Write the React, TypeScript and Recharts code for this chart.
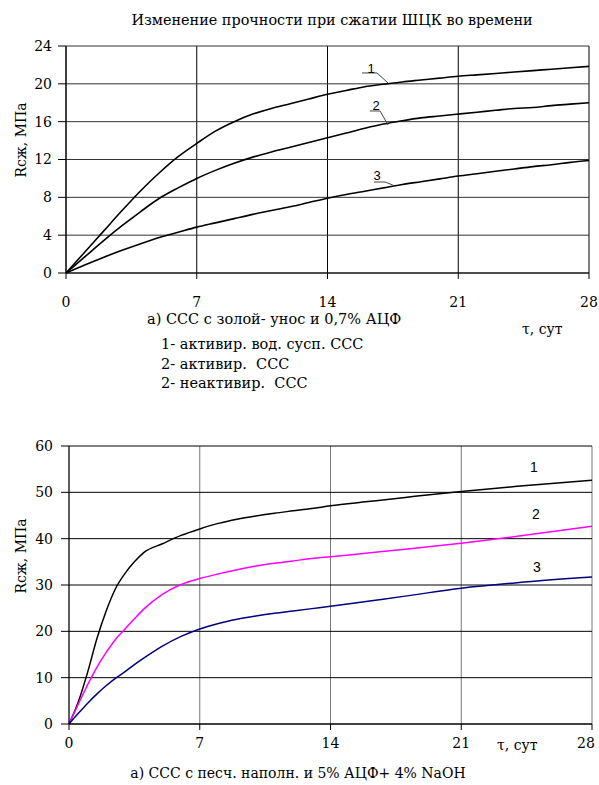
import { LineChart, Line, XAxis, YAxis, CartesianGrid, ReferenceLine } from "recharts";

// top chart: ССС с золой-унос, 0,7% АЦФ
const TOP_DAYS = [0, 1, 2, 3, 4, 5, 6, 7, 8, 9, 10, 11, 12, 13, 14, 15, 16, 17, 18, 19, 20, 21, 22, 23, 24, 25, 26, 27, 28];
const TOP_S1 = [0, 2.2, 4.4, 6.6, 8.7, 10.6, 12.3, 13.7, 15.0, 16.0, 16.8, 17.4, 17.9, 18.4, 18.9, 19.3, 19.7, 19.95, 20.2, 20.4, 20.6, 20.8, 20.95, 21.1, 21.25, 21.4, 21.55, 21.7, 21.85];
const TOP_S2 = [0, 1.7, 3.4, 5.0, 6.5, 7.9, 9.0, 10.0, 10.85, 11.6, 12.25, 12.8, 13.3, 13.8, 14.3, 14.8, 15.3, 15.75, 16.1, 16.4, 16.6, 16.8, 17.0, 17.2, 17.4, 17.5, 17.7, 17.85, 18.0];
const TOP_S3 = [0, 0.85, 1.65, 2.4, 3.1, 3.75, 4.3, 4.85, 5.3, 5.75, 6.2, 6.6, 7.0, 7.45, 7.9, 8.3, 8.65, 9.0, 9.35, 9.65, 9.95, 10.25, 10.5, 10.75, 11.0, 11.25, 11.45, 11.7, 11.9];

// bottom chart: ССС с песч. наполн., 5% АЦФ + 4% NaOH
const BOT_DAYS = [0, 0.5, 1, 1.5, 2, 2.5, 3, 3.5, 4, 5, 6, 7, 8, 9, 10, 11, 12, 13, 14, 16, 18, 21, 24, 28];
const BOT_S1 = [0, 4.8, 11.2, 18.5, 24.5, 29.3, 32.5, 35.0, 37.0, 38.9, 40.7, 42.1, 43.3, 44.2, 44.9, 45.5, 46.0, 46.5, 47.1, 48.0, 48.9, 50.2, 51.3, 52.6];
const BOT_S2 = [0, 4.3, 8.5, 12.3, 15.5, 18.3, 20.5, 22.7, 24.8, 28.0, 30.1, 31.4, 32.4, 33.3, 34.1, 34.7, 35.2, 35.7, 36.1, 36.9, 37.7, 39.0, 40.5, 42.7];
const BOT_S3 = [0, 2.3, 4.5, 6.5, 8.3, 9.9, 11.3, 12.8, 14.2, 16.8, 18.9, 20.5, 21.7, 22.6, 23.3, 23.9, 24.4, 24.9, 25.4, 26.5, 27.6, 29.3, 30.5, 31.7];

const X_TICKS = [0, 7, 14, 21, 28];
const TOP_Y_TICKS = [0, 4, 8, 12, 16, 20, 24];
const BOT_Y_TICKS = [0, 10, 20, 30, 40, 50, 60];

const TITLE = "Изменение прочности при сжатии ШЦК во времени";
const Y_LABEL = "Rсж, МПа";
const X_LABEL = "τ, сут";
const TOP_CAPTION = "а) ССС с золой- унос и 0,7% АЦФ";
const TOP_LEGEND = ["1- активир. вод. сусп. ССС", "2- активир.  ССС", "2- неактивир.  ССС"];
const BOT_CAPTION = "а) ССС с песч. наполн. и 5% АЦФ+ 4% NaOH";

const topData = TOP_DAYS.map((d, i) => ({ day: d, s1: TOP_S1[i], s2: TOP_S2[i], s3: TOP_S3[i] }));
const botData = BOT_DAYS.map((d, i) => ({ day: d, s1: BOT_S1[i], s2: BOT_S2[i], s3: BOT_S3[i] }));

const SERIF = "DejaVu Serif";
const SANS = "Liberation Sans";
const tickStyle = { fill: "#000", fontSize: 14, fontFamily: SERIF };

// leader lines for curve labels on the top chart
const LEADERS = [
  [{ x: 15.85, y: 21.15 }, { x: 16.65, y: 21.15 }, { x: 17.24, y: 20.09 }],
  [{ x: 16.27, y: 17.13 }, { x: 16.81, y: 17.13 }, { x: 17.24, y: 15.65 }],
  [{ x: 16.49, y: 9.62 }, { x: 17.08, y: 9.62 }, { x: 17.5, y: 9.3 }],
];

// bottom x ticks: last label sits a little left of its gridline, as in the original
const BottomTick = ({ x, y, payload }) => (
  <text x={payload.value === 28 ? x - 5 : x} y={y} dy="0.71em" textAnchor="middle" {...tickStyle}>
    {payload.value}
  </text>
);

const Text = ({ x, y, children, size = 14, family = SERIF, anchor = "left" }) => (
  <div
    style={{
      position: "absolute",
      left: x,
      top: y,
      transform: anchor === "center" ? "translate(-50%, -50%)" : "translateY(-50%)",
      fontFamily: family,
      fontSize: size,
      whiteSpace: "pre",
      color: "#000",
      lineHeight: 1,
    }}
  >
    {children}
  </div>
);

const VLabel = ({ x, y, children }) => (
  <div
    style={{
      position: "absolute",
      left: x,
      top: y,
      transform: "translate(-50%, -50%) rotate(-90deg)",
      fontFamily: SERIF,
      fontSize: 14,
      whiteSpace: "pre",
      lineHeight: 1,
    }}
  >
    {children}
  </div>
);

export default function App() {
  return (
    <div style={{ position: "absolute", left: 0, top: 0, width: 599, height: 785, background: "#fff", overflow: "hidden", fontFamily: SERIF }}>
      <Text x={332} y={20} anchor="center" size={14.4}>{TITLE}</Text>

      <div style={{ position: "absolute", left: 0, top: 0 }}>
        <LineChart width={599} height={330} data={topData} margin={{ top: 46, right: 10, left: 10, bottom: 27 }}>
          <CartesianGrid horizontal={false} stroke="#000" strokeWidth={1} />
          <CartesianGrid vertical={false} stroke="#333" strokeWidth={1} />
          <XAxis
            type="number"
            dataKey="day"
            domain={[0, 28]}
            ticks={X_TICKS}
            height={30}
            stroke="#000"
            tickSize={6}
            tickMargin={18}
            tick={tickStyle}
          />
          <YAxis
            type="number"
            domain={[0, 24]}
            ticks={TOP_Y_TICKS}
            width={56}
            stroke="#000"
            tickSize={8}
            tickMargin={6}
            tick={tickStyle}
          />
          <Line type="monotone" dataKey="s1" stroke="#000" strokeWidth={1.6} dot={false} isAnimationActive={false} />
          <Line type="monotone" dataKey="s2" stroke="#000" strokeWidth={1.6} dot={false} isAnimationActive={false} />
          <Line type="monotone" dataKey="s3" stroke="#000" strokeWidth={1.6} dot={false} isAnimationActive={false} />
          {LEADERS.flatMap((pts, i) => [
            <ReferenceLine key={`a${i}`} segment={[pts[0], pts[1]]} stroke="#444" strokeWidth={1} />,
            <ReferenceLine key={`b${i}`} segment={[pts[1], pts[2]]} stroke="#444" strokeWidth={1} />,
          ])}
        </LineChart>
      </div>

      <Text x={371} y={68} size={13} family={SANS} anchor="center">1</Text>
      <Text x={376} y={105} size={13} family={SANS} anchor="center">2</Text>
      <Text x={377} y={175} size={13} family={SANS} anchor="center">3</Text>

      <VLabel x={21} y={140}>{Y_LABEL}</VLabel>
      <Text x={147} y={319} size={14.5}>{TOP_CAPTION}</Text>
      <Text x={522} y={329} size={14}>{X_LABEL}</Text>
      {TOP_LEGEND.map((s, i) => (
        <Text key={s} x={161} y={344 + i * 19.5} size={14.5}>{s}</Text>
      ))}

      <div style={{ position: "absolute", left: 0, top: 400 }}>
        <LineChart width={599} height={370} data={botData} margin={{ top: 46, right: 7, left: 13, bottom: 16 }}>
          <CartesianGrid horizontal={false} stroke="#777" strokeWidth={1} />
          <CartesianGrid vertical={false} stroke="#000" strokeWidth={1} />
          <XAxis
            type="number"
            dataKey="day"
            domain={[0, 28]}
            ticks={X_TICKS}
            height={30}
            stroke="#000"
            tickSize={6}
            tickMargin={8}
            tick={BottomTick}
          />
          <YAxis
            type="number"
            domain={[0, 60]}
            ticks={BOT_Y_TICKS}
            width={56}
            stroke="#000"
            tickSize={8}
            tickMargin={8}
            tick={tickStyle}
          />
          <Line type="monotone" dataKey="s1" stroke="#000" strokeWidth={1.5} dot={false} isAnimationActive={false} />
          <Line type="monotone" dataKey="s2" stroke="#ff00ff" strokeWidth={1.5} dot={false} isAnimationActive={false} />
          <Line type="monotone" dataKey="s3" stroke="#000080" strokeWidth={1.5} dot={false} isAnimationActive={false} />
        </LineChart>
      </div>

      <Text x={534} y={467} family={SANS} anchor="center">1</Text>
      <Text x={536} y={514} family={SANS} anchor="center">2</Text>
      <Text x={537} y={567} family={SANS} anchor="center">3</Text>

      <VLabel x={21} y={556}>{Y_LABEL}</VLabel>
      <Text x={497} y={745} size={14}>{X_LABEL}</Text>
      <Text x={298} y={773} anchor="center" size={14}>{BOT_CAPTION}</Text>
    </div>
  );
}
